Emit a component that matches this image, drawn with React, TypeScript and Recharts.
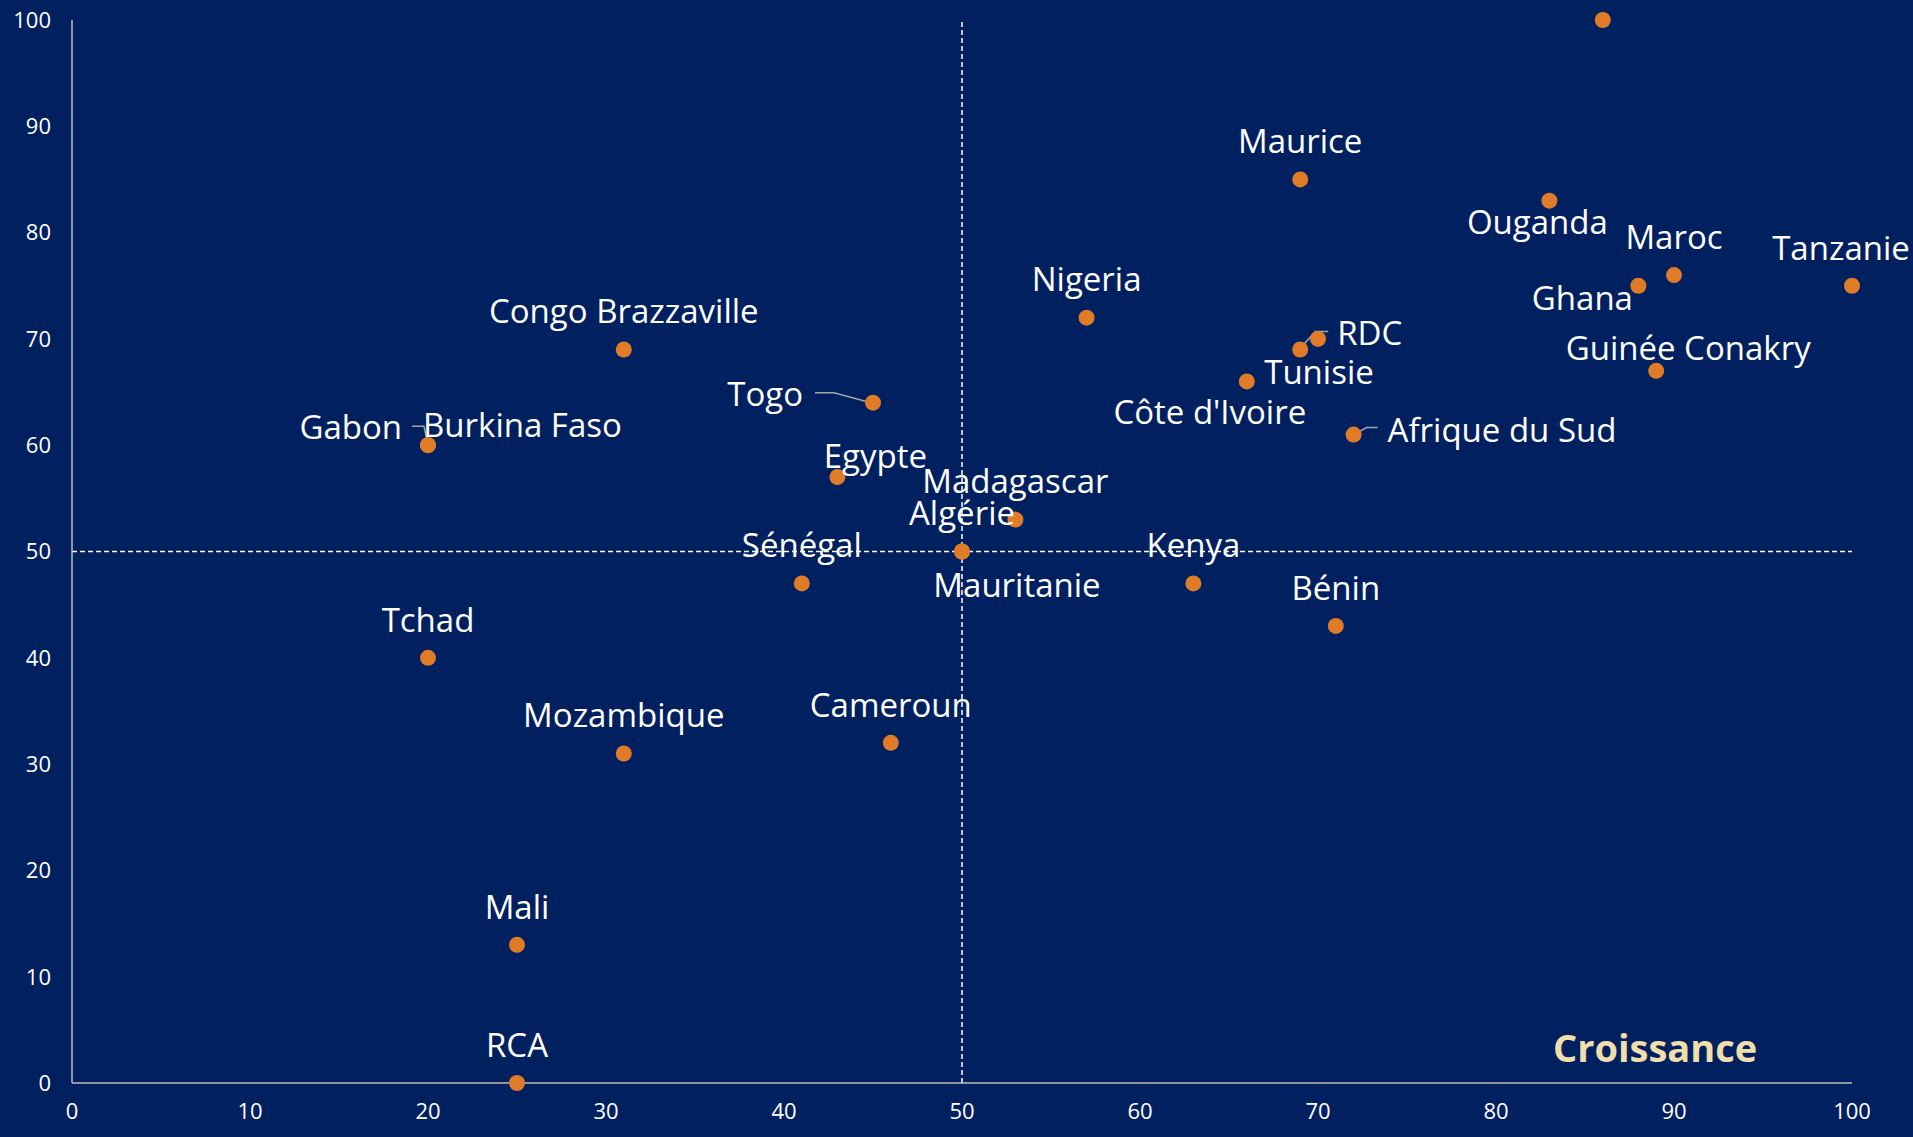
import { ScatterChart, Scatter, XAxis, YAxis, ReferenceLine } from "recharts"

// Pays, croissance (axe X) et score (axe Y)
const countries = [
  "Maurice", "Ouganda", "Maroc", "Ghana", "Tanzanie", "Guinée Conakry", "Nigeria",
  "Congo Brazzaville", "RDC", "Tunisie", "Côte d'Ivoire", "Togo", "Gabon", "Burkina Faso",
  "Afrique du Sud", "Egypte", "Madagascar", "Algérie", "Mauritanie", "Sénégal", "Kenya",
  "Bénin", "Tchad", "Cameroun", "Mozambique", "Mali", "RCA", "",
]
const croissance = [69, 83, 90, 88, 100, 89, 57, 31, 69, 70, 66, 45, 20, 20, 72, 43, 53, 50, 50, 41, 63, 71, 20, 46, 31, 25, 25, 86]
const score = [85, 83, 76, 75, 75, 67, 72, 69, 69, 70, 66, 64, 60, 60, 61, 57, 53, 50, 50, 47, 47, 43, 40, 32, 31, 13, 0, 100]

const xTicks = [0, 10, 20, 30, 40, 50, 60, 70, 80, 90, 100]
const yTicks = [0, 10, 20, 30, 40, 50, 60, 70, 80, 90, 100]

const points = countries.map((name, i) => ({ name, x: croissance[i], y: score[i] }))

// where each label sits relative to its dot (pixels)
type Placement = { dx: number; dy: number; anchor: "start" | "middle" | "end"; leader?: number[][] }
const above: Placement = { dx: 0, dy: -38, anchor: "middle" }
const placements: Record<string, Placement> = {
  Ouganda: { dx: -12, dy: 22, anchor: "middle" },
  Ghana: { dx: -56, dy: 12, anchor: "middle" },
  Tanzanie: { dx: -11, dy: -38, anchor: "middle" },
  "Guinée Conakry": { dx: 32, dy: -23, anchor: "middle" },
  RDC: { dx: 37, dy: -16, anchor: "start", leader: [[0, -1], [15, -18], [28, -18]] },
  Tunisie: { dx: 1, dy: 33, anchor: "middle" },
  "Côte d'Ivoire": { dx: -37, dy: 31, anchor: "middle" },
  Togo: { dx: -70, dy: -8, anchor: "end", leader: [[-58, -10], [-39, -10], [-2, 0]] },
  Gabon: { dx: -26, dy: -18, anchor: "end", leader: [[0, 0], [-4, -19], [-16, -19]] },
  "Burkina Faso": { dx: -5, dy: -20, anchor: "start" },
  "Afrique du Sud": { dx: 34, dy: -4, anchor: "start", leader: [[0, 0], [13, -7], [24, -7]] },
  Egypte: { dx: 38, dy: -21, anchor: "middle" },
  Mauritanie: { dx: 55, dy: 34, anchor: "middle" },
}

const FONT = "'Open Sans', sans-serif"
const LABEL_SIZE = 33

const renderPoint = (props: any) => {
  const { cx, cy, payload } = props
  const p = placements[payload.name] ?? above
  return (
    <g>
      {p.leader && (
        <polyline
          points={p.leader.map(([a, b]) => `${cx + a},${cy + b}`).join(" ")}
          fill="none"
          stroke="#A6A6A6"
          strokeWidth={1.5}
        />
      )}
      <circle cx={cx} cy={cy} r={8} fill="#E07B28" />
      {payload.name && (
        <text
          x={cx + p.dx}
          y={cy + p.dy + LABEL_SIZE * 0.357}
          textAnchor={p.anchor}
          fill="#FFFFFF"
          fontSize={LABEL_SIZE}
          fontFamily={FONT}
        >
          {payload.name}
        </text>
      )}
    </g>
  )
}

export default function App() {
  return (
    <div style={{ position: "absolute", top: 0, left: 0, width: 1913, height: 1137, background: "#002060", overflow: "hidden" }}>
      <ScatterChart width={1913} height={1137} margin={{ top: 20, right: 61, bottom: 0, left: 0 }}>
        <XAxis
          type="number"
          dataKey="x"
          domain={[0, 100]}
          ticks={xTicks}
          height={54}
          tickLine={false}
          tickMargin={14}
          axisLine={{ stroke: "#BFBFBF", strokeWidth: 1.5 }}
          tick={{ fill: "#FFFFFF", fontSize: 22, fontFamily: FONT }}
        />
        <YAxis
          type="number"
          dataKey="y"
          domain={[0, 100]}
          ticks={yTicks}
          width={72}
          tickLine={false}
          tickMargin={15}
          axisLine={{ stroke: "#BFBFBF", strokeWidth: 1.5 }}
          tick={{ fill: "#FFFFFF", fontSize: 22, fontFamily: FONT }}
        />
        <Scatter data={points} shape={renderPoint} isAnimationActive={false} />
        <ReferenceLine x={50} stroke="#FFFFFF" strokeWidth={1.5} strokeDasharray="5 3" />
        <ReferenceLine y={50} stroke="#FFFFFF" strokeWidth={1.5} strokeDasharray="5 3" />
      </ScatterChart>
      <div
        style={{
          position: "absolute",
          left: 1553,
          top: 1022,
          fontFamily: FONT,
          fontWeight: 700,
          fontSize: 38,
          color: "#F1DEAB",
          lineHeight: "50px",
        }}
      >
        Croissance
      </div>
    </div>
  )
}
